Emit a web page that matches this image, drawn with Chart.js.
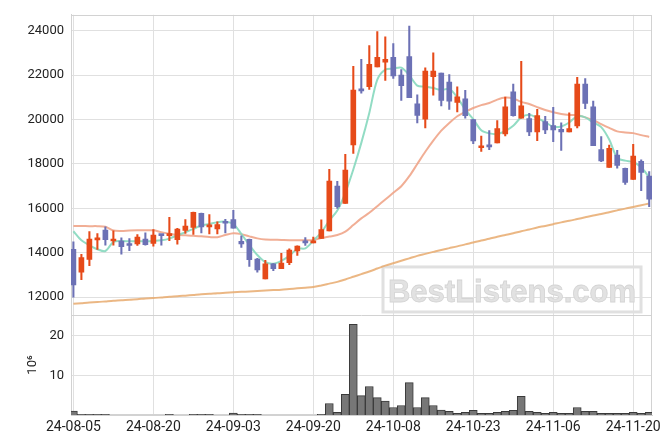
<!DOCTYPE html>
<html>
<head>
<meta charset="utf-8">
<script src="https://cdn.jsdelivr.net/npm/chart.js@4.4.1/dist/chart.umd.min.js"></script>
<style>
  html, body { margin: 0; padding: 0; background: #fff; }
</style>
</head>
<body>
<canvas id="chart" width="671" height="444"></canvas>
<script>
// trading days (yy-mm-dd)
const dates = [
  "24-08-05","24-08-06","24-08-07","24-08-08","24-08-09","24-08-12","24-08-13","24-08-14","24-08-16","24-08-19",
  "24-08-20","24-08-21","24-08-22","24-08-23","24-08-26","24-08-27","24-08-28","24-08-29","24-08-30","24-09-02",
  "24-09-03","24-09-04","24-09-05","24-09-06","24-09-09","24-09-10","24-09-11","24-09-12","24-09-13","24-09-19",
  "24-09-20","24-09-23","24-09-24","24-09-25","24-09-26","24-09-27","24-09-30","24-10-02","24-10-04","24-10-07",
  "24-10-08","24-10-10","24-10-11","24-10-14","24-10-15","24-10-16","24-10-17","24-10-18","24-10-21","24-10-22",
  "24-10-23","24-10-24","24-10-25","24-10-28","24-10-29","24-10-30","24-10-31","24-11-01","24-11-04","24-11-05",
  "24-11-06","24-11-07","24-11-08","24-11-11","24-11-12","24-11-13","24-11-14","24-11-15","24-11-18","24-11-19",
  "24-11-20","24-11-21","24-11-22"
];

const openP = [
  14160,13130,13700,14580,15020,14530,14530,14400,14400,14620,
  14420,14800,14770,14590,15010,15140,15780,15170,15070,15410,
  15500,14520,14610,13720,12820,13500,13290,13560,14080,14520,
  14450,14650,14980,17010,16220,18860,21380,21480,22370,22590,
  22800,22000,22840,20710,20020,21930,22090,21690,20770,20930,
  20000,18730,18850,18950,19350,21250,20060,20050,19450,19910,
  19730,19560,19440,19720,21600,20580,18650,17840,18400,17810,
  17300,18120,17450
];
const highP = [
  14490,13930,14960,14870,15170,14990,14670,14640,14820,14900,
  15050,14830,15600,15100,15500,15830,15790,15720,15390,15510,
  15910,14760,14620,13750,13660,13510,13970,14180,14310,14680,
  14710,15480,17760,17215,18440,22400,22710,23330,23960,23730,
  23420,22250,24210,21110,22330,23010,22100,22030,21480,21320,
  20010,19260,19500,19960,21010,21600,22620,20280,20460,20150,
  20550,19850,20300,21900,21850,20830,19230,18850,18620,17820,
  18880,18190,17660
];
const lowP = [
  12000,12790,13420,14150,14340,14340,13940,14100,14330,14340,
  14300,14340,14550,14390,14870,14830,14900,14850,14845,14890,
  15110,14240,13390,13130,12820,13200,13290,13470,13880,14330,
  14440,14650,14980,16000,16220,18480,21190,21360,22370,21760,
  21850,20860,20990,19850,19630,21100,20610,20460,20340,20060,
  18920,18570,18640,18950,19260,20150,20060,19280,19050,19360,
  19010,18610,19440,19630,20490,18820,18100,17840,17810,17080,
  17300,16800,16080
];
const closeP = [
  12550,13780,14620,14670,14590,14620,14280,14330,14710,14370,
  14800,14770,14845,15070,15200,15820,15170,15260,15275,15330,
  15110,14400,13690,13230,13500,13280,13540,14120,14300,14450,
  14530,15050,17230,16075,17720,21330,21290,22490,22800,22710,
  21970,21530,20990,20190,22180,22180,20860,20830,21020,20180,
  19040,18800,18770,19600,20580,20180,20620,19440,20180,19530,
  19530,19440,19600,21600,20730,18820,18140,18700,17930,17170,
  18360,17620,16420
];

// moving averages as drawn
const ma5 = [
  14970,14560,14340,14160,14080,14490,14530,14520,14520,14520,
  14530,14560,14640,14790,14930,15080,15230,15300,15380,15400,
  15300,14850,14350,13900,13580,13510,13640,13860,14180,14200,
  14550,14920,15450,15900,16700,17750,18950,20300,21800,22250,
  22300,22340,22000,21530,21490,21420,21330,21380,21000,20450,
  20020,19520,19380,19350,19480,19720,20100,20220,20080,19880,
  19680,19690,19870,20150,20100,19870,19660,19100,18280,18150,
  18090,17850,17400
];
const ma20 = [
  15210,15210,15200,15200,15170,15000,14980,15000,15010,15010,
  15010,14930,14860,14810,14790,14770,14740,14710,14700,14800,
  14880,14840,14740,14650,14600,14590,14580,14570,14570,14570,
  14580,14660,14730,14800,14950,15250,15550,15800,16100,16400,
  16700,17000,17450,18000,18550,19050,19500,19850,20150,20350,
  20520,20650,20750,20900,20990,20950,20800,20700,20560,20430,
  20330,20250,20210,20200,20100,19980,19800,19630,19470,19420,
  19390,19300,19220
];
const ma60 = [
  11700,11730,11760,11780,11810,11840,11860,11890,11910,11940,
  11960,11990,12020,12040,12070,12100,12130,12150,12180,12200,
  12220,12240,12260,12280,12300,12320,12340,12370,12400,12430,
  12460,12530,12610,12690,12800,12920,13040,13160,13290,13420,
  13530,13640,13750,13860,13950,14040,14130,14210,14290,14380,
  14460,14550,14630,14720,14800,14880,14970,15050,15140,15210,
  15290,15370,15440,15520,15600,15680,15750,15830,15910,15990,
  16060,16140,16220
];

// volume, millions
const volume = [
  1.0,0.2,0.2,0.2,0.2,null,null,null,null,null,
  null,null,0.15,null,null,0.15,0.15,0.15,null,null,
  0.5,0.2,0.2,0.2,null,null,null,null,null,null,
  null,0.2,2.9,0.7,5.2,22.9,4.9,7.2,4.4,3.5,
  1.9,2.4,8.2,1.9,4.4,2.4,1.25,0.9,0.4,0.7,
  1.2,0.4,0.4,0.7,0.9,1.2,4.7,0.9,0.7,0.4,
  0.7,0.4,0.4,1.9,0.9,0.9,0.4,0.4,0.4,0.4,
  0.7,0.4,0.7
];

const priceTicks = [12000, 14000, 16000, 18000, 20000, 22000, 24000];
const volTicks = [10, 20];
const dateTicks = ["24-08-05","24-08-20","24-09-03","24-09-20","24-10-08","24-10-23","24-11-06","24-11-20"];

const UP = "#e64a19";
const DOWN = "#6c71b5";
const GRID = "#e0e0e0";
const FRAME = "#d2d2d2";

const candleColor = openP.map((o, i) => closeP[i] >= o ? UP : DOWN);
const xy = arr => arr.map((v, i) => ({ x: i, y: v }));

Chart.defaults.font.family = "Roboto";
Chart.defaults.color = "#333";

const framePlugin = {
  id: "frame",
  beforeDatasetsDraw(chart) {
    const { ctx, chartArea: a, scales } = chart;
    ctx.save();
    // watermark
    const bx = a.left + 312, by = scales.y.bottom - 48, bw = a.right - 11 - bx, bh = 45;
    ctx.strokeStyle = "#e0e0e0";
    ctx.lineWidth = 3;
    ctx.strokeRect(bx, by, bw, bh);
    ctx.font = 'bold 31px "Liberation Sans"';
    ctx.textAlign = "center";
    ctx.textBaseline = "alphabetic";
    ctx.fillStyle = "#e2e2e2";
    ctx.fillText("BestListens.com", bx + bw / 2, by + 35);
    ctx.lineWidth = 0.8;
    ctx.strokeStyle = "#d4d4d4";
    ctx.strokeText("BestListens.com", bx + bw / 2, by + 35);
    // plot frame + panel separator
    ctx.strokeStyle = FRAME;
    ctx.lineWidth = 1;
    ctx.strokeRect(Math.round(a.left) + 0.5, Math.round(a.top) + 0.5, Math.round(a.width) - 1, Math.round(a.height) - 1);
    const ys = Math.round(scales.y.bottom) + 0.5;
    ctx.beginPath();
    ctx.moveTo(a.left, ys);
    ctx.lineTo(a.right, ys);
    ctx.stroke();
    ctx.restore();
  }
};

new Chart(document.getElementById("chart"), {
  data: {
    datasets: [
      {
        type: "bar",
        data: dates.map((d, i) => ({ x: i, y: [lowP[i], highP[i]] })),
        backgroundColor: candleColor,
        barThickness: 1.4,
        grouped: false,
        yAxisID: "y",
        order: 1
      },
      {
        type: "bar",
        data: dates.map((d, i) => ({ x: i, y: [openP[i], closeP[i]] })),
        backgroundColor: candleColor,
        barThickness: 5,
        minBarLength: 2,
        grouped: false,
        yAxisID: "y",
        order: 0
      },
      {
        type: "line",
        data: xy(ma5),
        borderColor: "rgba(134,216,190,0.9)",
        borderWidth: 2,
        pointRadius: 0,
        tension: 0.3,
        yAxisID: "y",
        order: 2
      },
      {
        type: "line",
        data: xy(ma20),
        borderColor: "rgba(238,160,130,0.85)",
        borderWidth: 2,
        pointRadius: 0,
        tension: 0.3,
        yAxisID: "y",
        order: 3
      },
      {
        type: "line",
        data: xy(ma60),
        borderColor: "rgba(232,170,110,0.85)",
        borderWidth: 2,
        pointRadius: 0,
        tension: 0.3,
        yAxisID: "y",
        order: 4
      },
      {
        type: "bar",
        data: xy(volume),
        backgroundColor: "#777777",
        borderColor: "#3a3a3a",
        borderWidth: 1,
        barThickness: 8,
        grouped: false,
        yAxisID: "vol",
        order: 5
      }
    ]
  },
  options: {
    responsive: false,
    animation: false,
    layout: { padding: { left: 27, right: 19, top: 9, bottom: 7 } },
    plugins: { legend: { display: false }, tooltip: { enabled: false } },
    scales: {
      x: {
        type: "linear",
        offset: false,
        min: -0.3,
        max: 72.35,
        afterBuildTicks: s => { s.ticks = dateTicks.map(d => ({ value: dates.indexOf(d) })); },
        afterFit: s => { s.height = 22; s.paddingLeft = 0; s.paddingRight = 0; },
        ticks: {
          callback: v => dates[v],
          font: { size: 14 },
          color: "#222",
          padding: 4,
          maxRotation: 0,
          autoSkip: false
        },
        grid: { color: GRID, drawTicks: false, offset: false },
        border: { color: FRAME }
      },
      vol: {
        type: "linear",
        position: "left",
        stack: "panels",
        stackWeight: 1,
        min: 0,
        max: 25.3,
        afterBuildTicks: s => { s.ticks = volTicks.map(v => ({ value: v })); },
        afterFit: s => { s.width = 44; },
        ticks: { font: { size: 13 }, color: "#222", padding: 7, callback: v => String(v) },
        grid: { color: GRID, drawTicks: false },
        border: { color: FRAME },
        title: {
          display: true,
          text: "10\u2076",
          font: { size: 13 },
          color: "#222",
          padding: { top: -2, bottom: 0 }
        }
      },
      y: {
        type: "linear",
        position: "left",
        stack: "panels",
        stackWeight: 3,
        min: 11200,
        max: 24720,
        afterBuildTicks: s => { s.ticks = priceTicks.map(v => ({ value: v })); },
        afterFit: s => { s.width = 44; },
        ticks: { font: { size: 13 }, color: "#222", padding: 7, callback: v => String(v) },
        grid: { color: GRID, drawTicks: false },
        border: { color: FRAME }
      }
    }
  },
  plugins: [framePlugin]
});
</script>
</body>
</html>
